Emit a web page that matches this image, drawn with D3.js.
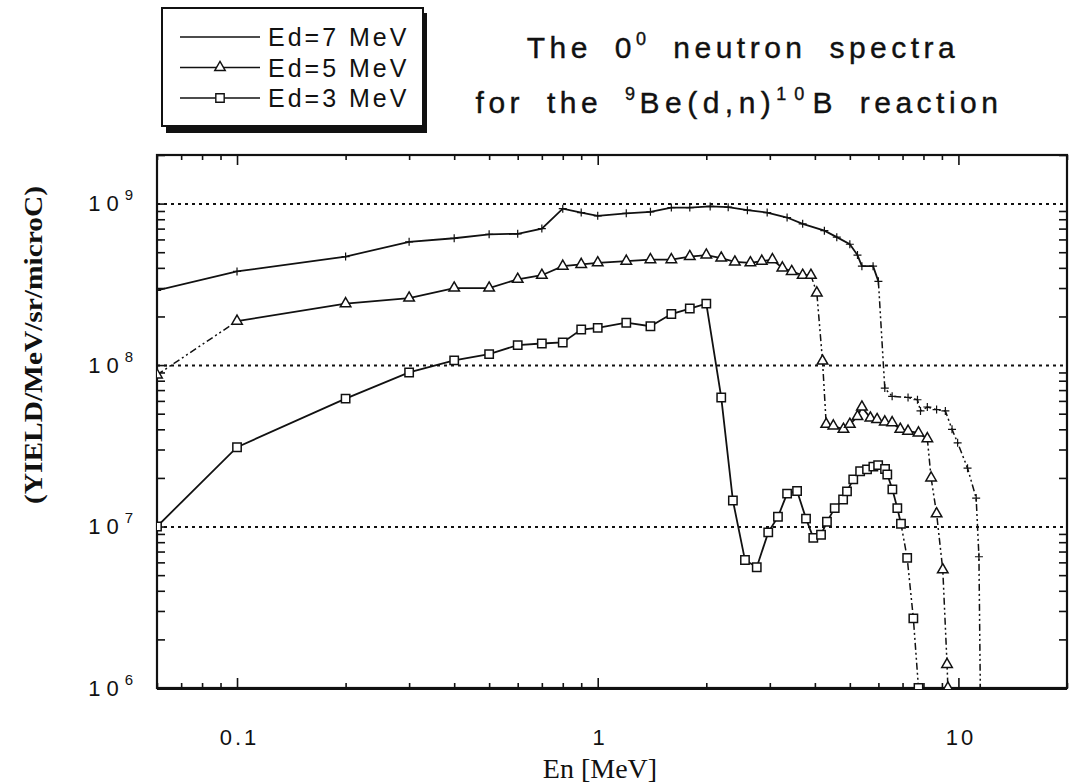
<!DOCTYPE html>
<html>
<head>
<meta charset="utf-8">
<style>
    body { margin: 0; background: #fff; }
    svg { display: block; }
    text {
        font-family: "Liberation Sans", Arial, sans-serif;
        fill: #111;
    }
    .title { font-size: 30px; letter-spacing: 4.5px; word-spacing: 10px; stroke: #111; stroke-width: 0.4; }
    .legend text { font-size: 25px; letter-spacing: 3px; }
    .xlab { font-size: 22px; letter-spacing: 3px; }
    .ylab { font-size: 22px; }
    .axis-title { font-family: "Liberation Serif", "DejaVu Serif", serif; }
    .axis .domain { display: none; }
    .axis line { stroke: #111; stroke-width: 1.6; }
    .grid .domain { display: none; }
    .grid line { stroke: #111; stroke-width: 2; stroke-dasharray: 3,4; }
    .series { fill: none; stroke: #111; stroke-width: 1.8; }
    .dashed { stroke-dasharray: 7,3,2,3,2,3; stroke-width: 1.5; }
</style>
</head>
<body>
<svg width="1071" height="784"></svg>
<script src="https://d3js.org/d3.v7.min.js"></script>
<script>
    // values (energy in MeV, yield per MeV/sr/microC)
    let ed7Energy = [0.06, 0.1, 0.2, 0.3, 0.4, 0.5, 0.6, 0.7, 0.8, 0.9, 1.0, 1.2, 1.4, 1.6, 1.8, 2.05, 2.3, 2.6, 2.95, 3.35, 3.7, 4.25, 4.6, 5.0, 5.25, 5.4, 5.8, 6.0, 6.25, 6.55, 7.25, 7.7, 7.85, 8.2, 8.7, 9.2, 9.6, 9.95, 10.6, 11.2, 11.4, 11.5]
    let ed7Yield = [2.9e8, 3.8e8, 4.7e8, 5.8e8, 6.1e8, 6.45e8, 6.5e8, 7.0e8, 9.3e8, 8.8e8, 8.4e8, 8.7e8, 8.9e8, 9.45e8, 9.45e8, 9.6e8, 9.5e8, 9.1e8, 8.8e8, 8.2e8, 7.5e8, 6.8e8, 6.2e8, 5.6e8, 4.8e8, 4.1e8, 4.1e8, 3.3e8, 7.2e7, 6.4e7, 6.3e7, 6.1e7, 5.2e7, 5.5e7, 5.3e7, 5.2e7, 4.0e7, 3.3e7, 2.3e7, 1.5e7, 6.5e6, 1e6]

    let ed5Energy = [0.06, 0.1, 0.2, 0.3, 0.4, 0.5, 0.6, 0.7, 0.8, 0.9, 1.0, 1.2, 1.4, 1.6, 1.8, 2.0, 2.2, 2.4, 2.65, 2.85, 3.05, 3.25, 3.45, 3.7, 3.9, 4.05, 4.2, 4.3, 4.5, 4.8, 5.0, 5.25, 5.4, 5.7, 5.95, 6.25, 6.55, 6.9, 7.25, 7.75, 8.2, 8.4, 8.7, 9.05, 9.3, 9.35]
    let ed5Yield = [8.7e7, 1.87e8, 2.4e8, 2.6e8, 3.0e8, 3.0e8, 3.4e8, 3.6e8, 4.1e8, 4.2e8, 4.3e8, 4.4e8, 4.5e8, 4.5e8, 4.7e8, 4.8e8, 4.6e8, 4.35e8, 4.3e8, 4.4e8, 4.5e8, 4.0e8, 3.8e8, 3.6e8, 3.6e8, 2.8e8, 1.06e8, 4.3e7, 4.2e7, 4.0e7, 4.3e7, 4.8e7, 5.5e7, 4.7e7, 4.6e7, 4.45e7, 4.4e7, 4.0e7, 3.9e7, 3.8e7, 3.5e7, 2.0e7, 1.2e7, 5.4e6, 1.4e6, 1e6]

    let ed3Energy = [0.06, 0.1, 0.2, 0.3, 0.4, 0.5, 0.6, 0.7, 0.8, 0.9, 1.0, 1.2, 1.4, 1.6, 1.8, 2.0, 2.2, 2.37, 2.56, 2.76, 2.97, 3.16, 3.35, 3.57, 3.78, 3.96, 4.16, 4.32, 4.54, 4.79, 4.91, 5.11, 5.34, 5.58, 5.81, 5.99, 6.26, 6.35, 6.56, 6.77, 6.93, 7.21, 7.5, 7.75]
    let ed3Yield = [1.0e7, 3.1e7, 6.2e7, 9.0e7, 1.07e8, 1.17e8, 1.33e8, 1.36e8, 1.38e8, 1.66e8, 1.7e8, 1.83e8, 1.74e8, 2.07e8, 2.24e8, 2.4e8, 6.3e7, 1.45e7, 6.2e6, 5.6e6, 9.2e6, 1.15e7, 1.6e7, 1.66e7, 1.12e7, 8.5e6, 8.9e6, 1.07e7, 1.3e7, 1.47e7, 1.65e7, 1.96e7, 2.2e7, 2.26e7, 2.35e7, 2.4e7, 2.27e7, 2.1e7, 1.7e7, 1.3e7, 1.04e7, 6.4e6, 2.7e6, 1e6]

    // energy ranges drawn dash-dot on the original plot
    let ed7DashRanges = [[6.0, 11.5]]
    let ed5DashRanges = [[0.06, 0.1], [3.9, 4.3], [8.2, 9.35]]
    let ed3DashRanges = [[6.93, 7.75]]

    let legendLabels = ["Ed=7 MeV", "Ed=5 MeV", "Ed=3 MeV"]
    let xLabelValues = [0.1, 1, 10]
    let xLabelText = ["0.1", "1", "10"]
    let yGridValues = [1e7, 1e8, 1e9]
    let yLabelValues = [1e6, 1e7, 1e8, 1e9]

    let svg = d3.select("svg")

    let plot = { left: 157, right: 1067, top: 155, bottom: 688 }

    let x = d3.scaleLog().domain([0.06, 20]).range([plot.left, plot.right])
    let y = d3.scaleLog().domain([1e6, 2e9]).range([plot.bottom, plot.top])

    let isDecade = d => Math.abs(Math.log10(d) - Math.round(Math.log10(d))) < 1e-9
    let xMinor = x.ticks().filter(d => !isDecade(d))
    let yMinor = y.ticks().filter(d => !isDecade(d))

    // dotted grid lines
    svg.append("g")
        .attr("class", "grid")
        .attr("transform", `translate(${plot.left},0)`)
        .call(d3.axisLeft(y).tickValues(yGridValues).tickSize(-(plot.right - plot.left)).tickFormat(""))

    // ticks all point inward
    svg.append("g").attr("class", "axis")
        .attr("transform", `translate(0,${plot.bottom})`)
        .call(d3.axisBottom(x).tickValues(xMinor).tickSize(-5).tickFormat(""))
    let xAxis = svg.append("g").attr("class", "axis")
        .attr("transform", `translate(0,${plot.bottom})`)
        .call(d3.axisBottom(x).tickValues(xLabelValues).tickSize(-10).tickPadding(41)
            .tickFormat((d, i) => xLabelText[i]))
    xAxis.selectAll(".tick text").attr("class", "xlab").attr("dx", 2)

    svg.append("g").attr("class", "axis")
        .attr("transform", `translate(0,${plot.top})`)
        .call(d3.axisTop(x).tickValues(xMinor).tickSize(-5).tickFormat(""))
    svg.append("g").attr("class", "axis")
        .attr("transform", `translate(0,${plot.top})`)
        .call(d3.axisTop(x).tickValues(xLabelValues).tickSize(-10).tickFormat(""))

    svg.append("g").attr("class", "axis")
        .attr("transform", `translate(${plot.left},0)`)
        .call(d3.axisLeft(y).tickValues(yMinor).tickSize(-8).tickFormat(""))
    svg.append("g").attr("class", "axis")
        .attr("transform", `translate(${plot.right},0)`)
        .call(d3.axisRight(y).tickValues(yMinor).tickSize(-8).tickFormat(""))

    let yAxis = svg.append("g").attr("class", "axis")
        .attr("transform", `translate(${plot.left},0)`)
        .call(d3.axisLeft(y).tickValues(yLabelValues).tickSize(-10).tickFormat(""))
    yAxis.selectAll(".tick text").remove()
    let ylab = yAxis.selectAll(".tick").append("text")
        .attr("class", "ylab")
        .attr("x", -24)
        .attr("y", 7)
        .attr("text-anchor", "end")
    ylab.append("tspan").style("letter-spacing", "6px").text("10")
    ylab.append("tspan")
        .attr("dy", -11)
        .style("font-size", "15px")
        .text(d => Math.round(Math.log10(d)))

    // frame
    svg.append("rect")
        .attr("x", plot.left)
        .attr("y", plot.top)
        .attr("width", plot.right - plot.left)
        .attr("height", plot.bottom - plot.top)
        .attr("fill", "none")
        .attr("stroke", "#111")
        .attr("stroke-width", 2.2)
    svg.append("line")
        .attr("x1", plot.left).attr("x2", plot.right)
        .attr("y1", plot.bottom + 1).attr("y2", plot.bottom + 1)
        .attr("stroke", "#111").attr("stroke-width", 2)

    svg.append("clipPath").attr("id", "clip")
        .append("rect")
        .attr("x", plot.left)
        .attr("y", plot.top)
        .attr("width", plot.right - plot.left)
        .attr("height", plot.bottom - plot.top + 1)

    let line = d3.line()
        .x(d => x(d[0]))
        .y(d => y(d[1]))

    let inRange = (e0, e1, ranges) => ranges.some(r => e0 >= r[0] - 1e-9 && e1 <= r[1] + 1e-9)

    // split a series into runs of solid / dash-dot segments
    function runs(energy, values, ranges) {
        let pts = d3.zip(energy, values)
        let out = []
        for (let i = 0; i < pts.length - 1; i++) {
            let dashed = inRange(pts[i][0], pts[i + 1][0], ranges)
            let last = out[out.length - 1]
            if (last && last.dashed == dashed) {
                last.pts.push(pts[i + 1])
            } else {
                out.push({ dashed: dashed, pts: [pts[i], pts[i + 1]] })
            }
        }
        return out
    }

    let lines = svg.append("g").attr("clip-path", "url(#clip)")

    let seriesList = [
        { energy: ed7Energy, values: ed7Yield, ranges: ed7DashRanges, marker: "plus" },
        { energy: ed5Energy, values: ed5Yield, ranges: ed5DashRanges, marker: "triangle" },
        { energy: ed3Energy, values: ed3Yield, ranges: ed3DashRanges, marker: "square" }
    ]

    let triangle = d3.symbol(d3.symbolTriangle, 48)
    let square = d3.symbol(d3.symbolSquare, 70)
    let plus = "M-4,0H4M0,-4V4"

    function markerPath(type) {
        if (type == "triangle") return triangle()
        if (type == "square") return square()
        return plus
    }

    seriesList.forEach(s => {
        lines.selectAll(null)
            .data(runs(s.energy, s.values, s.ranges))
            .join("path")
            .attr("class", d => d.dashed ? "series dashed" : "series")
            .attr("d", d => line(d.pts))

        lines.selectAll(null)
            .data(d3.zip(s.energy, s.values))
            .join("path")
            .attr("transform", d => `translate(${x(d[0])},${y(d[1])})`)
            .attr("d", markerPath(s.marker))
            .attr("fill", s.marker == "plus" ? "none" : "#fff")
            .attr("stroke", "#111")
            .attr("stroke-width", s.marker == "plus" ? 1.2 : 1.5)
    })

    // legend box with heavy drop shadow
    let legend = svg.append("g").attr("class", "legend")
    legend.append("rect")
        .attr("x", 166).attr("y", 13)
        .attr("width", 261).attr("height", 120)
        .attr("fill", "#111")
    legend.append("rect")
        .attr("x", 162).attr("y", 8)
        .attr("width", 261).attr("height", 118)
        .attr("fill", "#fff")
        .attr("stroke", "#111")
        .attr("stroke-width", 2)

    let legendRows = legend.selectAll(".row")
        .data(legendLabels)
        .join("g")
        .attr("class", "row")
        .attr("transform", (d, i) => `translate(0,${37 + i * 30.5})`)

    legendRows.append("line")
        .attr("x1", 180).attr("x2", 260)
        .attr("stroke", "#111").attr("stroke-width", 1.6)
    legendRows.append("path")
        .attr("transform", "translate(220,0)")
        .attr("d", (d, i) => seriesList[i].marker == "plus" ? null : markerPath(seriesList[i].marker))
        .attr("fill", "#fff")
        .attr("stroke", "#111")
        .attr("stroke-width", 1.4)
    legendRows.append("text")
        .attr("x", 268)
        .attr("y", 9)
        .text(d => d)

    // title
    let t1 = svg.append("text")
        .attr("class", "title")
        .attr("x", 743).attr("y", 58)
        .attr("text-anchor", "middle")
    t1.append("tspan").text("The 0")
    t1.append("tspan").attr("dy", -13).style("font-size", "18px").text("0")
    t1.append("tspan").attr("dy", 13).text(" neutron spectra")

    let t2 = svg.append("text")
        .attr("class", "title")
        .attr("x", 739).attr("y", 113)
        .attr("text-anchor", "middle")
    t2.append("tspan").text("for the ")
    t2.append("tspan").attr("dy", -13).style("font-size", "18px").text("9")
    t2.append("tspan").attr("dy", 13).style("letter-spacing", "5.5px").text("Be(d,n)")
    t2.append("tspan").attr("dy", -13).style("font-size", "18px").style("letter-spacing", "8px").text("10")
    t2.append("tspan").attr("dy", 13).text("B reaction")

    // axis titles
    svg.append("text")
        .attr("class", "axis-title")
        .attr("x", 600).attr("y", 778)
        .attr("text-anchor", "middle")
        .style("font-size", "28px")
        .text("En [MeV]")

    svg.append("text")
        .attr("class", "axis-title")
        .attr("transform", "translate(42,345) rotate(-90)")
        .attr("text-anchor", "middle")
        .attr("textLength", 318)
        .attr("lengthAdjust", "spacingAndGlyphs")
        .style("font-size", "26px")
        .style("font-weight", "bold")
        .text("(YIELD/MeV/sr/microC)")
</script>
</body>
</html>
